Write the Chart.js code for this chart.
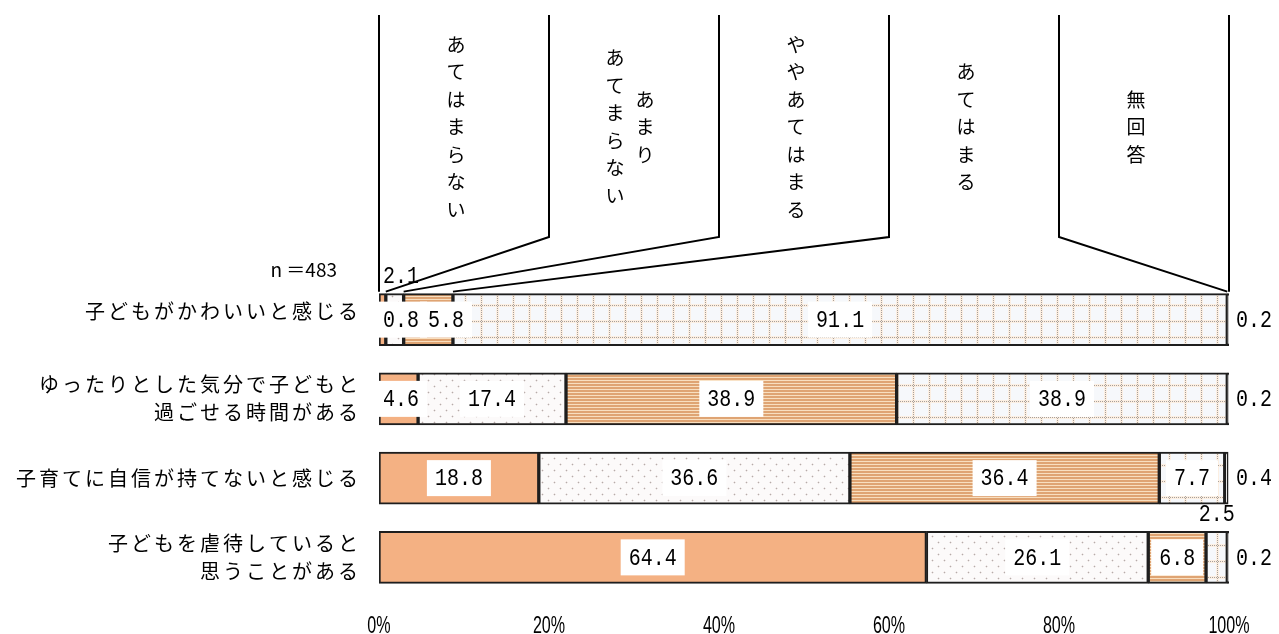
<!DOCTYPE html>
<html>
<head>
<meta charset="utf-8">
<script src="https://cdn.jsdelivr.net/npm/chart.js@4"></script>
<style>
  html, body { margin: 0; padding: 0; background: #fff; }
</style>
</head>
<body>
<canvas id="chart" width="1279" height="634"></canvas>
<script>
// --- data ---
const categories = [
  ['子どもがかわいいと感じる'],
  ['ゆったりとした気分で子どもと', '過ごせる時間がある'],
  ['子育てに自信が持てないと感じる'],
  ['子どもを虐待していると', '思うことがある']
];
const seriesNames = ['あてはまらない', 'あまりあてまらない', 'ややあてはまる', 'あてはまる', '無回答'];
// header columns, right column first (vertical writing)
const headerColumns = [['あてはまらない'], ['あまり', 'あてまらない'], ['ややあてはまる'], ['あてはまる'], ['無回答']];
const notApply  = [0.8, 4.6, 18.8, 64.4];
const ratherNot = [2.1, 17.4, 36.6, 26.1];
const somewhat  = [5.8, 38.9, 36.4, 6.8];
const apply     = [91.1, 38.9, 7.7, 2.5];
const noAnswer  = [0.2, 0.2, 0.4, 0.2];
const xTicks = [0, 20, 40, 60, 80, 100];
const sampleSize = 483;

const JP = '"Noto Sans CJK JP", "Noto Sans", sans-serif';
const NUM = '"Liberation Mono", "DejaVu Sans Mono", monospace';

// fill patterns
function makePattern(w, h, draw) {
  const c = document.createElement('canvas');
  c.width = w; c.height = h;
  const g = c.getContext('2d');
  draw(g);
  return g.createPattern(c, 'repeat');
}

const dotFill = makePattern(12, 12, g => {
  g.fillStyle = '#fcfafa';
  g.fillRect(0, 0, 12, 12);
  [[2, 2], [8, 8]].forEach(([x, y]) => {
    g.fillStyle = '#ebe4e3';
    g.fillRect(x - 1, y, 3, 1);
    g.fillRect(x, y - 1, 1, 3);
    g.fillStyle = '#b5acaa';
    g.fillRect(x, y, 1, 1);
  });
});

const stripeFill = makePattern(4, 3, g => {
  g.fillStyle = '#dfa473';
  g.fillRect(0, 0, 4, 2);
  g.fillStyle = '#f8dfc0';
  g.fillRect(0, 2, 4, 1);
});

const gridFill = makePattern(16, 16, g => {
  g.fillStyle = '#f6f8fb';
  g.fillRect(0, 0, 16, 16);
  g.fillStyle = '#fcefe2';
  g.fillRect(0, 0, 16, 3);
  g.fillRect(0, 0, 3, 16);
  g.fillStyle = '#a8a09a';
  for (let i = 0; i < 16; i += 2) {
    g.fillRect(i, 1, 1, 1);
    g.fillRect(1, i, 1, 1);
  }
});

const fills = ['#f4b183', dotFill, stripeFill, gridFill, '#ffffff'];
const values = [notApply, ratherNot, somewhat, apply, noAnswer];

// value labels: white boxes, small ones above the bar, no-answer outside right
const valueLabels = {
  id: 'valueLabels',
  afterDatasetsDraw(chart) {
    const ctx = chart.ctx, area = chart.chartArea;
    ctx.save();
    ctx.font = '20px ' + NUM;
    ctx.textAlign = 'center';
    ctx.textBaseline = 'middle';
    const lastRight = categories.map(() => -Infinity);
    chart.data.datasets.forEach((ds, di) => {
      chart.getDatasetMeta(di).data.forEach((bar, i) => {
        const v = ds.data[i];
        const txt = v.toFixed(1);
        const w = ctx.measureText(txt).width;
        const left = Math.min(bar.base, bar.x), right = Math.max(bar.base, bar.x);
        let cx = (left + right) / 2, cy = bar.y, boxed = true;
        if (di === values.length - 1) {
          cx = area.right + 25; boxed = false;
        } else if (v < 3 && di > 0) {
          cy = bar.y - bar.height / 2 - 18; boxed = false;
          cx = Math.max(cx, area.left + 4 + w / 2);
        } else {
          cx = Math.max(cx, area.left + 4 + w / 2, lastRight[i] + 9 + w / 2);
          lastRight[i] = cx + w / 2;
        }
        if (boxed) {
          ctx.fillStyle = '#fff';
          ctx.fillRect(cx - w / 2 - 8, cy - 18, w + 16, 36);
        }
        ctx.fillStyle = '#000';
        ctx.save();
        ctx.translate(cx, cy + 1);
        ctx.scale(1, 1.2);
        ctx.fillText(txt, 0, 0);
        ctx.restore();
      });
    });
    ctx.restore();
  }
};

// category labels, n, x tick labels and the callout header
const decorations = {
  id: 'decorations',
  afterDraw(chart) {
    const ctx = chart.ctx, xs = chart.scales.x, ys = chart.scales.y;
    const bar0 = chart.getDatasetMeta(0).data[0];
    const barTop = bar0.y - bar0.height / 2;
    ctx.save();
    ctx.fillStyle = '#000';

    // category labels
    ctx.font = '20px ' + JP;
    ctx.letterSpacing = '3px';
    ctx.textAlign = 'right';
    ctx.textBaseline = 'middle';
    categories.forEach((lines, i) => {
      const yc = ys.getPixelForValue(i) - (i === 0 ? 8 : 0);
      lines.forEach((t, j) => {
        ctx.fillText(t, 361, yc + (j - (lines.length - 1) / 2) * 28);
      });
    });
    ctx.letterSpacing = '0px';
    ctx.font = '19px ' + JP;
    ctx.fillText('n ＝' + sampleSize, 337, barTop - 24);

    // x tick labels (condensed)
    ctx.font = '23px "Liberation Sans", Arial, sans-serif';
    ctx.textAlign = 'center';
    ctx.textBaseline = 'alphabetic';
    xTicks.forEach(t => {
      ctx.save();
      ctx.translate(xs.getPixelForValue(t), 633);
      ctx.scale(0.7, 1);
      ctx.fillText(t + '%', 0, 0);
      ctx.restore();
    });

    // callout lines
    ctx.strokeStyle = '#000';
    ctx.lineWidth = 2;
    const topY = 15, kneeY = 237, endY = barTop - 2;
    let cum = 0;
    xTicks.forEach((t, k) => {
      const bx = xs.getPixelForValue(t);
      ctx.beginPath();
      if (k === 0) {
        ctx.moveTo(bx, topY); ctx.lineTo(bx, endY);
      } else {
        cum += values[k - 1][0];
        const target = xs.getPixelForValue(Math.min(cum, 100));
        ctx.moveTo(bx, topY); ctx.lineTo(bx, kneeY); ctx.lineTo(target, endY);
      }
      ctx.stroke();
    });

    // vertical series names
    ctx.font = '19px ' + JP;
    ctx.textAlign = 'center';
    ctx.textBaseline = 'middle';
    headerColumns.forEach((cols, k) => {
      const mid = (xs.getPixelForValue(xTicks[k]) + xs.getPixelForValue(xTicks[k + 1])) / 2;
      const n = cols.length;
      const base = mid - 8 + (n - 1) * 4;
      cols.forEach((col, j) => {
        const x = base + ((n - 1) / 2 - j) * 30;
        const chars = Array.from(col);
        chars.forEach((ch, c) => {
          ctx.fillText(ch, x, 127 + (c - (chars.length - 1) / 2) * 27.5);
        });
      });
    });
    ctx.restore();
  }
};

new Chart(document.getElementById('chart'), {
  type: 'bar',
  data: {
    labels: categories,
    datasets: seriesNames.map((name, k) => ({
      label: name,
      data: values[k],
      backgroundColor: fills[k],
      borderColor: '#1e1e1e',
      borderWidth: 2,
      borderSkipped: false,
      barThickness: 52
    }))
  },
  options: {
    indexAxis: 'y',
    responsive: false,
    animation: false,
    layout: { padding: { left: 379, right: 50, top: 280, bottom: 0 } },
    plugins: { legend: { display: false }, tooltip: { enabled: false } },
    scales: {
      x: {
        stacked: true,
        min: 0,
        max: 100,
        afterFit(scale) { scale.height = 37; },
        grid: { display: false, drawTicks: false },
        border: { display: false },
        ticks: { display: false, stepSize: 20 }
      },
      y: {
        stacked: true,
        display: false
      }
    }
  },
  plugins: [valueLabels, decorations]
});
</script>
</body>
</html>
